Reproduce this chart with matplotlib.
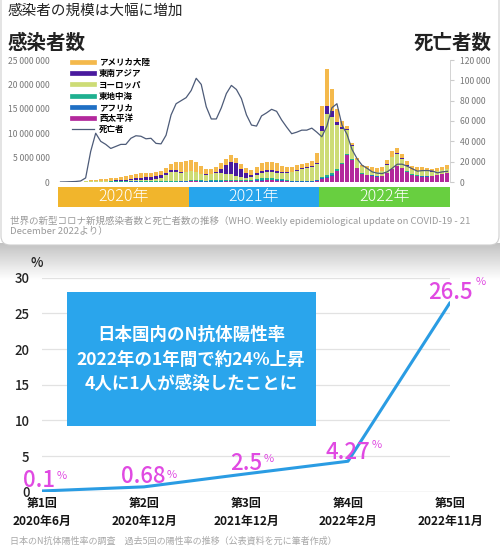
import numpy as np
import matplotlib
matplotlib.use("Agg")
import matplotlib.pyplot as plt
from matplotlib.lines import Line2D
from matplotlib.patches import FancyBboxPatch, Rectangle

plt.rcParams['font.family'] = ['Noto Sans CJK JP', 'DejaVu Sans']

# ---------------- data: top chart (bi-weekly, millions of cases) ----------------
region_names = ['アメリカ大陸', '東南アジア', 'ヨーロッパ', '東地中海', 'アフリカ', '西太平洋']
w_pacific = [0, .01, .02, .02, .02, .01, .01, .01, .01, .005, .005, .01, .01, .01, .02, .02, .02, .02, .02, .02, .02, .02, .03, .04, .05, .05,
             .15, .12, .1, .08, .08, .08, .1, .12, .15, .15, .15, .15, .15, .2, .3, .35, .35, .3, .25, .15, .1, .1, .1, .1, .1, .15,
             .6, .9, 1.3, 2.2, 3.6, 5.5, 4.5, 2.8, 1.7, 1.4, 1.3, 1.1, 1.2, 1.8, 2.6, 3.2, 2.8, 2.1, 1.5, 1.3, 1.1, 1.1, 1.2, 1.4, 1.6, 1.8]
africa = [0, 0, 0, 0, 0, 0, .01, .01, .01, .02, .03, .04, .06, .08, .1, .09, .07, .06, .05, .05, .05, .05, .05, .06, .07, .1,
          .1, .1, .08, .06, .05, .05, .05, .06, .06, .06, .07, .1, .15, .18, .18, .15, .12, .1, .08, .06, .05, .05, .05, .06, .1, .2,
          .2, .15, .1, .1, .05, .05, .04, .04, .04, .04, .04, .04, .04, .04, .04, .04, .04, .03, .03, .03, .03, .03, .03, .03, .03, .03]
e_med = [0, 0, 0, 0, 0, .02, .03, .04, .05, .06, .07, .08, .09, .08, .07, .06, .06, .06, .07, .08, .09, .1, .12, .15, .15, .15,
         .15, .15, .15, .15, .18, .22, .25, .25, .25, .22, .18, .15, .15, .18, .25, .3, .3, .25, .2, .15, .12, .1, .1, .1, .1, .1,
         .25, .35, .4, .4, .3, .15, .1, .06, .05, .05, .05, .05, .05, .06, .06, .06, .05, .05, .05, .05, .05, .05, .05, .05, .05, .05]
europe = [0, 0, 0, .01, .06, .17, .22, .2, .17, .13, .11, .1, .11, .12, .15, .18, .22, .27, .35, .48, .75, 1.3, 1.85, 1.85, 1.6, 1.65,
          1.8, 1.6, 1.3, 1.2, 1.25, 1.45, 1.5, 1.3, 1.1, .8, .6, .5, .55, .85, 1.1, 1.2, 1.2, 1.2, 1.25, 1.4, 1.7, 2.1, 2.5, 2.7, 2.8, 3.3,
          9.5, 12.5, 11.5, 9.0, 7.0, 5.0, 2.8, 1.6, 1.2, 1.1, .9, .8, .9, 1.6, 2.4, 2.5, 1.9, 1.2, .9, .9, 1.1, 1.1, .85, .75, .75, .8]
se_asia = [0, 0, 0, 0, 0, 0, .01, .02, .03, .05, .07, .1, .14, .2, .28, .38, .45, .53, .6, .6, .52, .42, .35, .3, .25, .2,
           .12, .1, .1, .1, .12, .25, .7, 1.8, 2.6, 2.6, 1.7, .9, .5, .4, .45, .5, .45, .4, .3, .2, .15, .12, .1, .1, .1, .15,
           1.0, 1.6, 1.2, .6, .3, .1, .06, .05, .05, .05, .05, .05, .06, .1, .12, .12, .1, .08, .06, .05, .05, .05, .04, .04, .04, .04]
americas = [0, 0, 0, 0, .02, .1, .17, .22, .28, .33, .46, .57, .69, .81, .88, .97, .98, .86, .81, .77, .87, 1.01, 1.2, 1.6, 1.88, 2.15,
            2.28, 1.93, 1.47, 1.11, .92, .95, 1.2, 1.27, 1.34, 1.17, 1.0, 1.0, 1.0, 1.29, 1.52, 1.7, 1.78, 1.55, 1.22, 1.04, .98, .93, .85, .84, 1.1, 2.1,
            3.95, 7.7, 4.5, 2.7, 1.25, .7, .5, .45, .45, .55, .65, .75, .75, .9, 1.1, 1.1, .9, .75, .65, .65, .65, .55, .5, .5, .7, .85]
deaths_k = [0, .1, .3, .5, 1.0, 4, 30, 48, 40, 37, 33, 35, 37, 37, 43, 45.5, 45, 42.5, 43, 38, 37.5, 46, 66, 77, 80, 83,
            90, 102, 96, 74, 62, 62, 73, 87, 95, 91, 82, 66, 56, 55, 65, 68, 71.5, 69.5, 61, 54, 47.5, 49, 51, 51, 53, 49,
            44.5, 55, 73, 77, 56, 47, 32, 23, 16.5, 13.5, 10, 8.7, 8.3, 10, 13.5, 17.5, 17.5, 15.5, 13, 10.7, 11.2, 11.3, 10.8, 9, 10, 10.5]
years = ['2020年', '2021年', '2022年']
left_ticks = [0, 5e6, 10e6, 15e6, 20e6, 25e6]
right_ticks = [0, 20000, 40000, 60000, 80000, 100000, 120000]

# ---------------- data: bottom chart ----------------
rounds = ['第1回', '第2回', '第3回', '第4回', '第5回']
dates = ['2020年6月', '2020年12月', '2021年12月', '2022年2月', '2022年11月']
positivity = [0.1, 0.68, 2.5, 4.27, 26.5]
value_texts = ['0.1', '0.68', '2.5', '4.27', '26.5']
y_ticks = [0, 5, 10, 15, 20, 25, 30]

# ---------------- figure ----------------
W, H = 500, 550
fig = plt.figure(figsize=(W / 100, H / 100), dpi=100)

def fx(px):
    return px / W

def fy(py):
    return 1 - py / H

# background: card + shadow
bg = fig.add_axes([0, 0, 1, 1], zorder=-10)
bg.set_xlim(0, W)
bg.set_ylim(H, 0)
bg.axis('off')
grad = np.linspace(0.76, 1.0, 60).reshape(-1, 1)
bg.imshow(grad, cmap='gray', vmin=0, vmax=1, extent=[0, W, 280, 243], aspect='auto', zorder=0)
bg.add_patch(FancyBboxPatch((1, -30), W - 2, 275, boxstyle='round,pad=0,rounding_size=9',
                            facecolor='white', edgecolor='#cfcfcf', lw=0.8, zorder=1))

# titles
fig.text(fx(8), fy(11), '感染者の規模は大幅に増加', fontsize=10.5, color='#222', va='center', ha='left')
fig.text(fx(8), fy(43), '感染者数', fontsize=14, fontweight='bold', color='#222', va='center', ha='left')
fig.text(fx(492), fy(43), '死亡者数', fontsize=14, fontweight='bold', color='#222', va='center', ha='right')

# ---------- top chart ----------
ax = fig.add_axes([fx(58), fy(182), fx(450) - fx(58), fy(60) - fy(182)])
n = len(americas)
x = np.arange(n) * 2 + 1
stack_order = [
    (w_pacific, '#b3289c', '西太平洋'),
    (africa, '#1f6fc4', 'アフリカ'),
    (e_med, '#1fb090', '東地中海'),
    (europe, '#cddc76', 'ヨーロッパ'),
    (se_asia, '#4a1a9e', '東南アジア'),
    (americas, '#f4b94c', 'アメリカ大陸'),
]
bottom = np.zeros(n)
for vals, col, name in stack_order:
    v = np.array(vals) * 1e6
    ax.bar(x, v, width=1.6, bottom=bottom, color=col, linewidth=0, zorder=2)
    bottom += v
ax.set_xlim(0, 156)
ax.set_ylim(0, 25e6)
ax.set_yticks(left_ticks)
ax.set_yticklabels([f'{int(t):,}'.replace(',', ' ') for t in left_ticks], fontsize=6.2, color='#777')
ax.tick_params(axis='y', length=0, pad=6)
ax.set_xticks([])
for s in ax.spines.values():
    s.set_visible(False)
ax.axhline(0, color='#dddddd', lw=0.8, zorder=1)

ax2 = ax.twinx()
ax2.plot(x, np.array(deaths_k) * 1000, color='#4d5b78', lw=0.9, zorder=3)
ax2.set_ylim(0, 120000)
ax2.set_xlim(0, 156)
ax2.set_yticks(right_ticks)
ax2.set_yticklabels([f'{int(t):,}'.replace(',', ' ') for t in right_ticks], fontsize=6.2, color='#777')
ax2.tick_params(axis='y', length=3, color='#cccccc', pad=4)
for k, s in ax2.spines.items():
    s.set_visible(k == 'right')
ax2.spines['right'].set_color('#cccccc')
ax2.spines['right'].set_linewidth(0.6)

# legend
handles = [Line2D([0], [0], color=c, lw=3.4) for _, c, _ in stack_order[::-1]]
labels = [nm for _, _, nm in stack_order[::-1]]
handles.append(Line2D([0], [0], color='#4d5b78', lw=0.9))
labels.append('死亡者')
fig.legend(handles, labels, loc='upper left', bbox_to_anchor=(fx(72), fy(58)), frameon=False,
           prop={'size': 6.1, 'weight': 'bold'}, handlelength=2.6, handletextpad=0.6,
           labelspacing=0.26, borderpad=0, borderaxespad=0)

# year band
band = fig.add_axes([fx(58), fy(207), fx(450) - fx(58), fy(187) - fy(207)])
band_cols = ['#f1b52c', '#27a5ec', '#68cf40']
for i, (yr, c) in enumerate(zip(years, band_cols)):
    band.axvspan(i * 52, (i + 1) * 52, color=c, lw=0)
    band.text(i * 52 + 26, 0.5, yr, color='white', fontsize=11.5, ha='center', va='center', fontweight='light')
band.set_xlim(0, 156)
band.set_ylim(0, 1)
band.axis('off')

fig.text(fx(10), fy(221), '世界の新型コロナ新規感染者数と死亡者数の推移（WHO. Weekly epidemiological update on COVID-19 - 21',
         fontsize=6.85, color='#9a9a9a', va='center', ha='left')
fig.text(fx(10), fy(232), 'December 2022より）', fontsize=6.85, color='#9a9a9a', va='center', ha='left')

# ---------- bottom chart ----------
bx = fig.add_axes([fx(42), fy(491.7), fx(450) - fx(42), fy(277.7) - fy(491.7)])
bx.set_xlim(0, 4)
bx.set_ylim(0, 30)
for t in y_ticks:
    bx.axhline(t, color='#bbbbbb' if t == 0 else '#e2e2e2', lw=0.9, zorder=1)
xi = np.arange(len(positivity))
bx.plot(xi, positivity, color='#2a9ce3', lw=2.2, zorder=3, solid_capstyle='round')
bx.set_yticks(y_ticks)
bx.set_yticklabels([str(t) for t in y_ticks], fontsize=9.5, color='#222', fontweight='medium')
bx.tick_params(axis='y', length=0, pad=9)
bx.set_xticks(xi)
bx.set_xticklabels([f'{r}\n{d}' for r, d in zip(rounds, dates)], fontsize=8.6, fontweight='bold',
                   color='#151515', linespacing=1.5)
bx.tick_params(axis='x', length=0, pad=3.5)
for s in bx.spines.values():
    s.set_visible(False)

num_off = [(13, 10), (21, 10), (16, 10), (22, 9), (23, 10)]   # pixel offsets (right edge of number, centre y)
pct_off = [(15, 15), (23, 12), (18, 15), (24, 16), (26, 21)]
magenta = '#e04ae2'
for i, (txt, v) in enumerate(zip(value_texts, positivity)):
    bx.annotate(txt, (i, v), xytext=(num_off[i][0] * 0.72, num_off[i][1] * 0.72), textcoords='offset points',
                ha='right', va='center', fontsize=16, color=magenta, zorder=5, annotation_clip=False,
                fontweight='medium')
    bx.annotate('%', (i, v), xytext=(pct_off[i][0] * 0.72, pct_off[i][1] * 0.72), textcoords='offset points',
                ha='left', va='center', fontsize=8, color=magenta, zorder=5, annotation_clip=False)

fig.text(fx(37), fy(263), '%', fontsize=9.5, color='#222', ha='center', va='center', fontweight='medium')

# blue box
box_ax = fig.add_axes([fx(67), fy(426), fx(316) - fx(67), fy(292) - fy(426)], zorder=4)
box_ax.add_patch(Rectangle((0, 0), 1, 1, facecolor='#2aa5ec', edgecolor='none'))
box_ax.set_xlim(0, 1)
box_ax.set_ylim(0, 1)
box_ax.axis('off')
for ypx, line in zip([335, 360, 384], ['日本国内のN抗体陽性率', '2022年の1年間で約24%上昇', '4人に1人が感染したことに']):
    fig.text(fx(191), fy(ypx), line, fontsize=12.6, fontweight='bold', color='white',
             ha='center', va='center', zorder=6)

fig.text(fx(10), fy(541), '日本のN抗体陽性率の調査　過去5回の陽性率の推移（公表資料を元に筆者作成）',
         fontsize=6.5, color='#a8a8a8', ha='left', va='center')

fig.savefig('out.png', dpi=100)
